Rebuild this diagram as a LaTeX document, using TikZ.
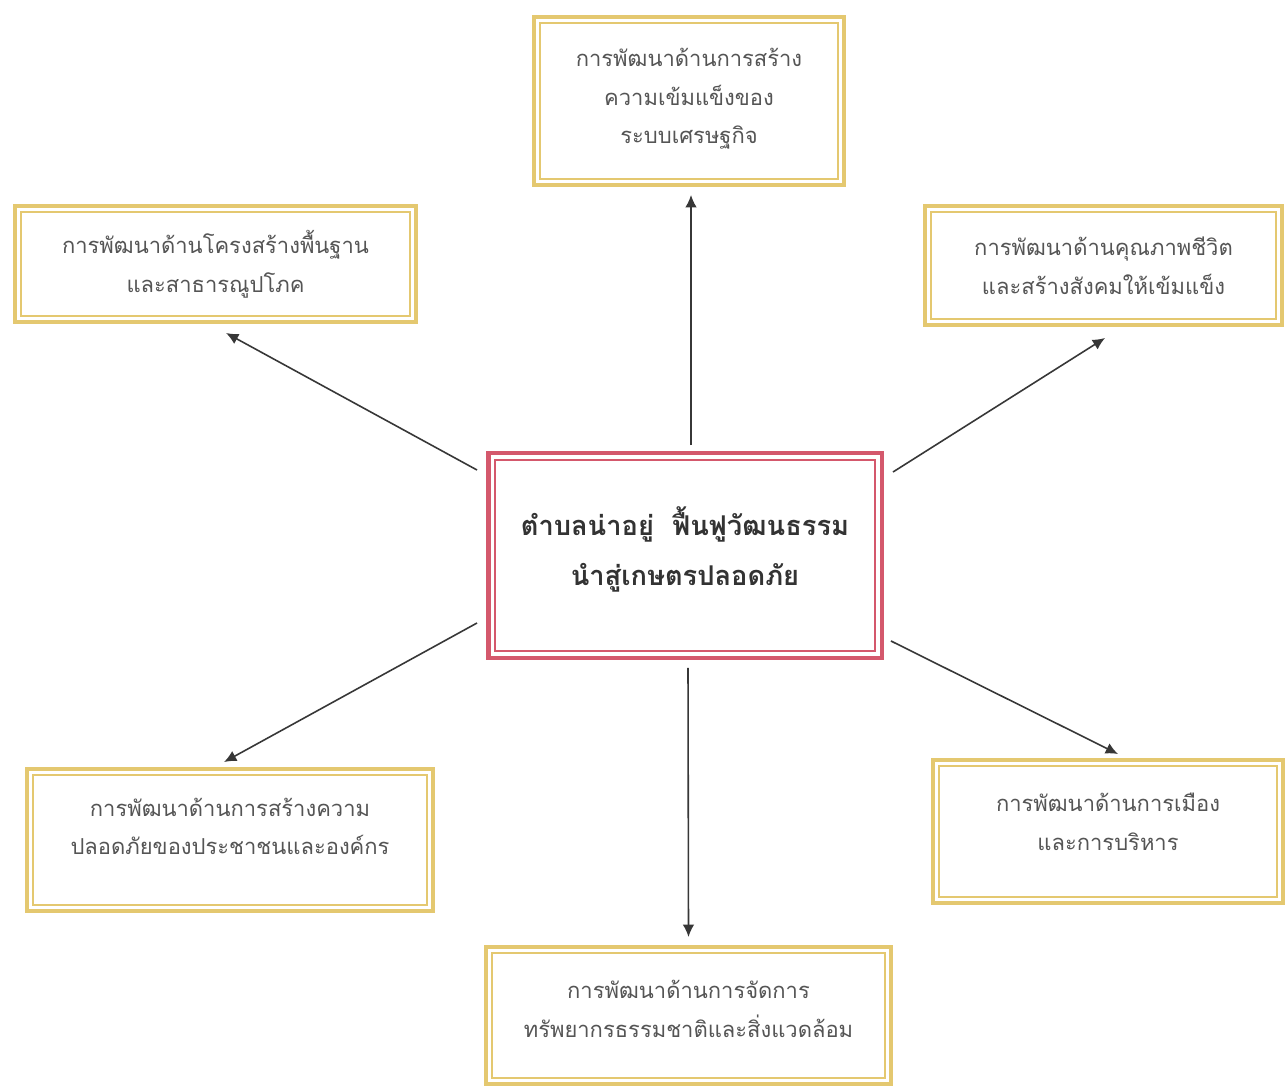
\documentclass[tikz,border=0pt]{standalone}
\usepackage{fontspec}
\newfontfamily\thai[Script=Thai]{Loma}
\usetikzlibrary{arrows.meta}
\definecolor{goldc}{RGB}{228,200,112}
\definecolor{redc}{RGB}{212,88,108}
\definecolor{txtc}{RGB}{85,85,85}
\definecolor{arrc}{RGB}{55,55,55}
\tikzset{
  gbox/.style={draw=goldc, line width=2.2pt, fill=white, inner sep=0pt, outer sep=0pt},
  cbox/.style={draw=redc, line width=2.8pt, fill=white, inner sep=0pt, outer sep=0pt},
  gtext/.style={align=center, text=txtc, inner sep=0pt, font={\thai\fontsize{12.5}{22}\selectfont}},
  ctext/.style={text=black!80, inner sep=0pt, font={\thai\bfseries\fontsize{15.5}{29.5}\selectfont}},
  arr/.style={arrc, line width=0.9pt, -{Latex[length=7pt,width=6.5pt]}}
}
\begin{document}
\begin{tikzpicture}[x=0.02cm, y=-0.02cm]
\fill[white] (0,0) rectangle (1287,1088);
\useasboundingbox (0,0) rectangle (1287,1088);

% boxes
\node[cbox, minimum width=7.88cm, minimum height=4.1cm] (c) at (685,555.5) {};
\node[gbox, minimum width=6.2cm, minimum height=3.36cm] (t) at (689,101) {};
\node[gbox, minimum width=8.02cm, minimum height=2.32cm] (tl) at (215.5,264) {};
\node[gbox, minimum width=7.14cm, minimum height=2.38cm] (tr) at (1103.5,265.5) {};
\node[gbox, minimum width=8.12cm, minimum height=2.84cm] (bl) at (230,840) {};
\node[gbox, minimum width=7.0cm, minimum height=2.86cm] (br) at (1108,831.5) {};
\node[gbox, minimum width=8.1cm, minimum height=2.74cm] (b) at (688.5,1015.5) {};

% inner lines of the double borders
\foreach \n in {t,tl,tr,bl,br,b}
  \draw[goldc, line width=0.8pt] ([shift={(6,6)}]\n.north west) rectangle ([shift={(-6,-6)}]\n.south east);
\draw[redc, line width=1pt] ([shift={(7,7)}]c.north west) rectangle ([shift={(-7,-7)}]c.south east);

% texts
\node[ctext, anchor=base] (ct1) at (685,535) {ตำบลน่าอยู่\ \ ฟื้นฟูวัฒนธรรม};
\node[ctext, anchor=base] (ct2) at (685,585) {นำสู่เกษตรปลอดภัย};
\node[gtext] (tt) at (689,99) {การพัฒนาด้านการสร้าง\\ความเข้มแข็งของ\\ระบบเศรษฐกิจ};
\node[gtext] (tlt) at (215.5,264.5) {การพัฒนาด้านโครงสร้างพื้นฐาน\\และสาธารณูปโภค};
\node[gtext] (trt) at (1103.5,266) {การพัฒนาด้านคุณภาพชีวิต\\และสร้างสังคมให้เข้มแข็ง};
\node[gtext] (blt) at (230,826.5) {การพัฒนาด้านการสร้างความ\\ปลอดภัยของประชาชนและองค์กร};
\node[gtext] (brt) at (1108,822) {การพัฒนาด้านการเมือง\\และการบริหาร};
\node[gtext] (bt) at (688.5,1009) {การพัฒนาด้านการจัดการ\\ทรัพยากรธรรมชาติและสิ่งแวดล้อม};

% connectors
\draw[arr] ([shift={(6,-8)}]c.north) -- ([shift={(2,10)}]t.south);
\draw[arr] ([shift={(-11,17)}]c.north west) -- ([shift={(211,11)}]tl.south west);
\draw[arr] ([shift={(11,19)}]c.north east) -- ([shift={(180,13)}]tr.south west);
\draw[arr] ([shift={(-11,-35)}]c.south west) -- ([shift={(197,-7)}]bl.north west);
\draw[arr] ([shift={(9,-17)}]c.south east) -- ([shift={(185,-6)}]br.north west);
\draw[arr] ([shift={(3,10)}]c.south) -- ([shift={(0,-10)}]b.north);
\end{tikzpicture}
\end{document}
